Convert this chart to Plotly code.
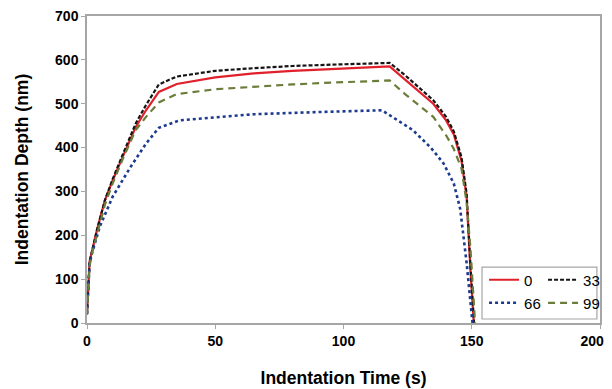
import plotly.graph_objects as go

# ---- data ----
t_0 = [0, 0.5, 1, 2, 4, 7, 10, 14, 19, 23, 28, 35, 50, 65, 80, 95, 110, 118,
       124, 130, 135, 140, 143, 146, 148, 149.5, 150.8]
d_0 = [20, 100, 140, 165, 215, 280, 325, 380, 447, 485, 527, 545, 560, 569, 575, 579, 583, 585,
       555, 525, 500, 462, 430, 370, 288, 120, 0]

t_33 = [0, 0.5, 1, 2, 4, 7, 10, 14, 19, 23, 28, 35, 50, 65, 80, 95, 110, 118,
        124, 130, 135, 140, 143, 146, 148, 149.5, 150.9]
d_33 = [20, 100, 140, 165, 215, 280, 328, 385, 455, 497, 544, 562, 575, 581, 586, 589, 592, 593,
        565, 535, 508, 470, 437, 378, 295, 130, 0]

t_66 = [0, 0.5, 1, 2, 5, 10, 17, 23, 28, 36, 50, 65, 90, 105, 115,
        119, 127, 134, 139, 143, 145.5, 148, 150.3]
d_66 = [20, 90, 135, 160, 220, 288, 356, 409, 445, 462, 468, 476, 481, 483, 485,
        470, 440, 400, 364, 318, 260, 137, 0]

t_99 = [0, 0.5, 1, 2, 4, 7, 10, 14, 19, 23, 28, 35, 50, 65, 80, 95, 110, 118,
        124, 130, 135, 140, 143, 146, 148, 149.5, 151.3]
d_99 = [20, 90, 130, 160, 205, 270, 318, 375, 440, 470, 503, 522, 533, 539, 544, 548, 552, 553,
        522, 493, 470, 428, 397, 352, 275, 170, 0]

x_ticks = [0, 50, 100, 150, 200]
y_ticks = [0, 100, 200, 300, 400, 500, 600, 700]

RED = "#E0202A"
BLACK = "#151515"
BLUE = "#1C3A8E"
GREEN = "#6B7D3A"
AXIS = "#A6A6A6"
FONT = "Liberation Sans, Arial, sans-serif"

# last x label gets trailing no-break spaces so it stays inside the visible page edge
x_ticktext = [str(v) for v in x_ticks]
x_ticktext[-1] = x_ticktext[-1] + "\u00a0" * 4

fig = go.Figure()
fig.add_trace(go.Scatter(x=t_0, y=d_0, mode="lines", name="0",
                         line=dict(color=RED, width=2.2), legend="legend"))
fig.add_trace(go.Scatter(x=t_33, y=d_33, mode="lines", name="33",
                         line=dict(color=BLACK, width=2.2, dash="4px,2px"), legend="legend2"))
fig.add_trace(go.Scatter(x=t_66, y=d_66, mode="lines", name="66",
                         line=dict(color=BLUE, width=2.6, dash="dot"), legend="legend3"))
fig.add_trace(go.Scatter(x=t_99, y=d_99, mode="lines", name="99",
                         line=dict(color=GREEN, width=2.2, dash="7px,5px"), legend="legend4"))

leg_common = dict(orientation="v", xanchor="left", yanchor="middle",
                  bgcolor="rgba(0,0,0,0)", borderwidth=0,
                  font=dict(family=FONT, size=15, color="#000"), itemwidth=30)

COL1, COL2 = 0.774, 0.889
ROW1, ROW2 = 0.140, 0.065

# the page body adds an 8px offset; margins compensate for it
fig.update_layout(
    width=604, height=381,
    margin=dict(l=79, r=12, t=8, b=66, autoexpand=False),
    paper_bgcolor="white", plot_bgcolor="white",
    font=dict(family=FONT, color="#000"),
    legend=dict(x=COL1, y=ROW1, **leg_common),
    legend2=dict(x=COL2, y=ROW1, **leg_common),
    legend3=dict(x=COL1, y=ROW2, **leg_common),
    legend4=dict(x=COL2, y=ROW2, **leg_common),
    xaxis=dict(
        range=[0, 200], tickvals=x_ticks, ticktext=x_ticktext,
        showgrid=False, zeroline=False, showline=True, linecolor=AXIS, linewidth=1.5,
        mirror=True, ticks="outside", ticklen=4, tickcolor=AXIS, tickwidth=1.2,
        automargin=False, ticklabeloverflow="allow",
        tickfont=dict(family=FONT, size=14, color="#000", weight="bold"),
        title=dict(text="Indentation Time (s)", standoff=24,
                   font=dict(family=FONT, size=17.5, color="#000", weight="bold")),
    ),
    yaxis=dict(
        range=[0, 700], tickvals=y_ticks, ticktext=[str(v) for v in y_ticks],
        showgrid=False, zeroline=False, showline=True, linecolor=AXIS, linewidth=1.5,
        mirror=True, ticks="outside", ticklen=4, tickcolor=AXIS, tickwidth=1.2,
        automargin=False, ticklabeloverflow="allow",
        tickfont=dict(family=FONT, size=14, color="#000", weight="bold"),
        title=dict(text="Indentation Depth (nm)", standoff=22,
                   font=dict(family=FONT, size=17.5, color="#000", weight="bold")),
    ),
    shapes=[dict(type="rect", xref="paper", yref="paper",
                 x0=0.770, x1=0.994, y0=0.013, y1=0.182,
                 line=dict(color=AXIS, width=1.2), fillcolor="rgba(0,0,0,0)", layer="above")],
    showlegend=True,
)

fig.write_html("out.html")
